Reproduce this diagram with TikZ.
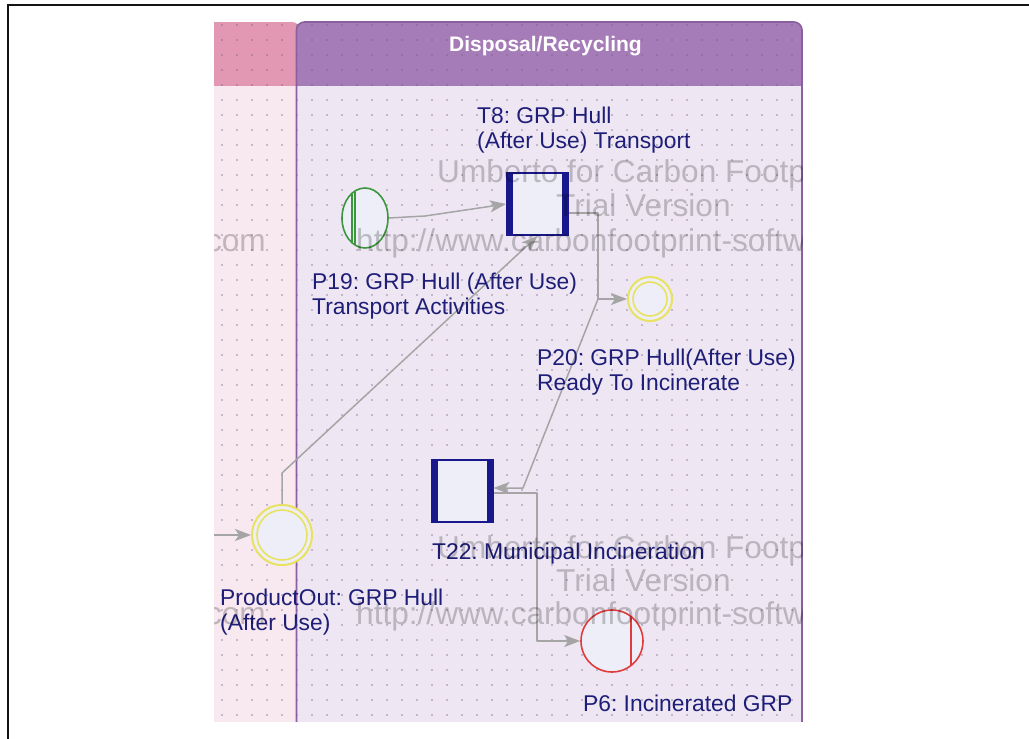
\documentclass[tikz,border=0pt]{standalone}
\usepackage{fontspec}
\setmainfont{Liberation Sans}
\newfontfamily\wmfont{Liberation Sans}
\usetikzlibrary{arrows.meta,shapes.geometric}
\frenchspacing

\definecolor{frameblack}{RGB}{20,20,20}
\definecolor{pinkhead}{RGB}{226,152,178}
\definecolor{pinkbody}{RGB}{248,232,240}
\definecolor{purphead}{RGB}{166,124,184}
\definecolor{purpbody}{RGB}{238,231,243}
\definecolor{laneedge}{RGB}{140,96,160}
\definecolor{dotc}{RGB}{110,95,125}
\definecolor{navy}{RGB}{24,24,140}
\definecolor{labelnavy}{RGB}{30,30,120}
\definecolor{nodefill}{RGB}{238,238,248}
\definecolor{ringyellow}{RGB}{232,226,96}
\definecolor{placegreen}{RGB}{60,150,60}
\definecolor{placered}{RGB}{225,60,60}
\definecolor{flowgray}{RGB}{165,165,165}

\tikzset{
  flow/.style={draw=flowgray, line width=1.5pt, line join=round,
    -{Stealth[length=16pt,width=12pt,inset=4pt,fill=flowgray]}},
  trans/.style={rectangle, draw=navy, line width=2pt, fill=nodefill,
    minimum width=61pt, minimum height=62pt, inner sep=0pt},
  bar/.style={fill=navy},
  ring/.style={circle, draw=ringyellow, line width=2pt, fill=nodefill, inner sep=0pt},
  lbl/.style={text=labelnavy, font=\fontsize{22.8}{25}\selectfont, align=left,
    inner sep=0pt, anchor=west},
  wm/.style={font=\wmfont\fontsize{31.6}{31.6}\selectfont, text=black, text opacity=0.22,
    inner sep=0pt, anchor=west},
}

\begin{document}
\begin{tikzpicture}[x=1pt,y=-1pt]
\useasboundingbox (0,0) rectangle (1029,739);
\fill[white] (0,0) rectangle (1029,739);

% outer frame
\draw[frameblack, line width=2.2pt] (8,739) -- (8,5.3) -- (1029,5.3);

% swimlanes
\begin{scope}
  \clip (214,0) rectangle (803,721);
  % left lane (pink)
  \fill[pinkhead, rounded corners=8pt] (150,22) rectangle (300,110);
  \fill[pinkbody] (150,86) rectangle (300,760);
  % Disposal/Recycling lane
  \fill[purphead, rounded corners=8pt] (296,22) rectangle (802,110);
  \fill[purpbody] (296,86) rectangle (802,760);
  % grid dots
  \foreach \x in {222,237,...,800}
    \foreach \y in {25,40,...,720}
      \fill[dotc, opacity=0.35] (\x-0.9,\y-0.9) rectangle +(1.8,1.8);
  % lane outline
  \draw[laneedge, line width=1.6pt, rounded corners=8pt]
    (296.5,760) -- (296.5,22) -- (802,22) -- (802,760);
\end{scope}

\node[text=white, font=\bfseries\fontsize{21}{21}\selectfont] (hdr) at (545.5,46) {Disposal/Recycling};

% transitions
\node[trans] (T8) at (537.5,204) {};
\fill[bar] (T8.north west) rectangle ([xshift=7pt]T8.south west);
\fill[bar] (T8.north east) rectangle ([xshift=-7pt]T8.south east);
\node[trans] (T22) at (462,490.5) {};
\fill[bar] (T22.north west) rectangle ([xshift=7pt]T22.south west);
\fill[bar] (T22.north east) rectangle ([xshift=-7pt]T22.south east);

% places
\node[ring, minimum size=60pt] (PO) at (282,535) {};
\draw[ringyellow, line width=1.6pt] (PO.center) circle[radius=25pt];
\node[ring, minimum size=44pt] (P20) at (650,299) {};
\draw[ringyellow, line width=1.6pt] (P20.center) circle[radius=17pt];
\node[ellipse, draw=placegreen, line width=1.6pt, fill=nodefill,
  minimum width=46pt, minimum height=60pt, inner sep=0pt] (P19) at (365,218) {};
\draw[placegreen, line width=1.2pt] ([xshift=-13pt,yshift=24.5pt]P19.center) -- ([xshift=-13pt,yshift=-24.5pt]P19.center);
\draw[placegreen, line width=1.2pt] ([xshift=-10pt,yshift=26.5pt]P19.center) -- ([xshift=-10pt,yshift=-26.5pt]P19.center);
\node[circle, draw=placered, line width=1.6pt, fill=nodefill, minimum size=62pt, inner sep=0pt] (P6) at (612,641) {};
\draw[placered, line width=1.6pt] ([xshift=19pt,yshift=24.5pt]P6.center) -- ([xshift=19pt,yshift=-24.5pt]P6.center);

% connectors
\coordinate (inPO) at (214,535);
\coordinate (k1) at (425,216);
\coordinate (k2) at (282,473);
\coordinate (k3) at (598,213);
\coordinate (k4) at (598,299);
\coordinate (k5) at (523,488);
\coordinate (k6) at (537,493);
\coordinate (k7) at (537,641);
\draw[flow] (inPO) -- (PO.west);
\draw[flow] (P19.east) -- (k1) -- (T8.west);
\draw[flow] (PO.north) -- (k2) -- (T8.south);
\draw[flow] ([yshift=-9pt]T8.east) -- (k3) -- (k4) -- (P20.west);
\draw[flow] (k4) -- (k5) -- ([yshift=2.5pt]T22.east);
\draw[flow] ([yshift=-2.5pt]T22.east) -- (k6) -- (k7) -- (P6.west);

% labels
\node[lbl] (T8lab) at (477,130) {T8: GRP Hull\\(After Use) Transport};
\node[lbl] (P19lab) at (312,296) {P19: GRP Hull (After Use)\\Transport Activities};
\node[lbl] (P20lab) at (537,372) {P20: GRP Hull(After Use)\\Ready To Incinerate};
\node[lbl] (T22lab) at (432,554) {T22: Municipal Incineration};
\node[lbl] (POlab) at (220,612) {ProductOut: GRP Hull\\(After Use)};
\node[lbl] (P6lab) at (583,703) {P6: Incinerated GRP};

% trial watermark
\begin{scope}
  \clip (214,22) rectangle (802,721);
  \node[wm] (wm1a) at (437,174) {Umberto for Carbon Footprint};
  \node[wm] (wm1b) at (556,205) {Trial Version};
  \node[wm] (wm1c) at (356,243) {http://www.carbonfootprint-software.com};
  \node[wm] (wm2a) at (437,550) {Umberto for Carbon Footprint};
  \node[wm] (wm2b) at (556,580) {Trial Version};
  \node[wm] (wm2c) at (356,616) {http://www.carbonfootprint-software.com};
  \node[wm, anchor=east] (wm0c) at (266,243) {http://www.carbonfootprint-software.com};
  \node[wm, anchor=east] (wm0d) at (266,616) {http://www.carbonfootprint-software.com};
\end{scope}
\end{tikzpicture}
\end{document}
